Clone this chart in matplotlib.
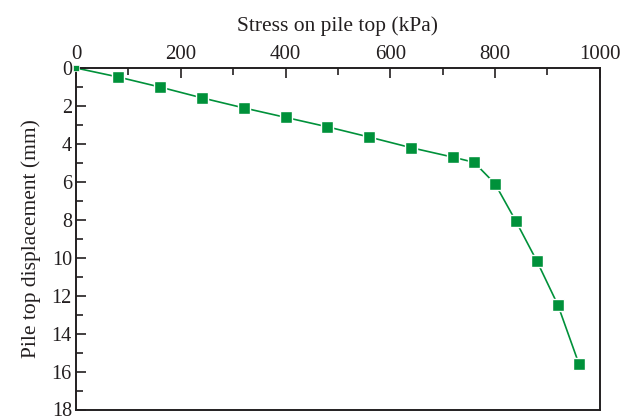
import matplotlib
matplotlib.use("Agg")
import matplotlib.pyplot as plt
from matplotlib.ticker import MultipleLocator

stress = [0, 80, 160, 240, 320, 400, 480, 560, 640, 720, 760, 800, 840, 880, 920, 960]
disp = [0, 0.47, 1.0, 1.57, 2.1, 2.6, 3.1, 3.64, 4.2, 4.7, 4.97, 6.1, 8.08, 10.18, 12.49, 15.58]
xticks = [0, 200, 400, 600, 800, 1000]
yticks = [0, 2, 4, 6, 8, 10, 12, 14, 16, 18]

plt.rcParams['font.family'] = ['Liberation Serif', 'DejaVu Serif']
fig = plt.figure(figsize=(6.34, 4.2), dpi=100)
ax = fig.add_axes([0.12, 0.025, 0.826, 0.813])
green = '#00913a'
ax.plot(stress[1:], disp[1:], color=green, lw=1.2, marker='s', ms=8,
        markeredgecolor='white', markeredgewidth=1.0, markerfacecolor=green, zorder=3)
ax.plot(stress[:2], disp[:2], color=green, lw=1.2, zorder=2)
ax.plot(stress[0], disp[0], marker='s', ms=4, color=green, markeredgecolor='white',
        markeredgewidth=0.5, zorder=4, clip_on=False)
ax.set_xlim(0, 1000)
ax.set_ylim(18, 0)
ax.xaxis.set_label_position('top')
ax.xaxis.tick_top()
ax.set_xticks(xticks)
ax.set_yticks(yticks)
ax.xaxis.set_minor_locator(MultipleLocator(100))
ax.yaxis.set_minor_locator(MultipleLocator(1))
ax.tick_params(which='both', direction='in', colors='#231f20', labelcolor='#231f20',
               labelsize=15, width=1.2)
ax.tick_params(axis='y', labelsize=14.5)
ax.tick_params(which='major', length=7, pad=3)
ax.tick_params(which='minor', length=5)
for s in ax.spines.values():
    s.set_linewidth(1.4)
    s.set_color('#231f20')
ax.set_xlabel('Stress on pile top (kPa)', fontsize=15.5, color='#231f20', labelpad=10)
ax.set_ylabel('Pile top displacement (mm)', fontsize=15.5, color='#231f20', labelpad=8)
fig.savefig('out.png', dpi=100)
